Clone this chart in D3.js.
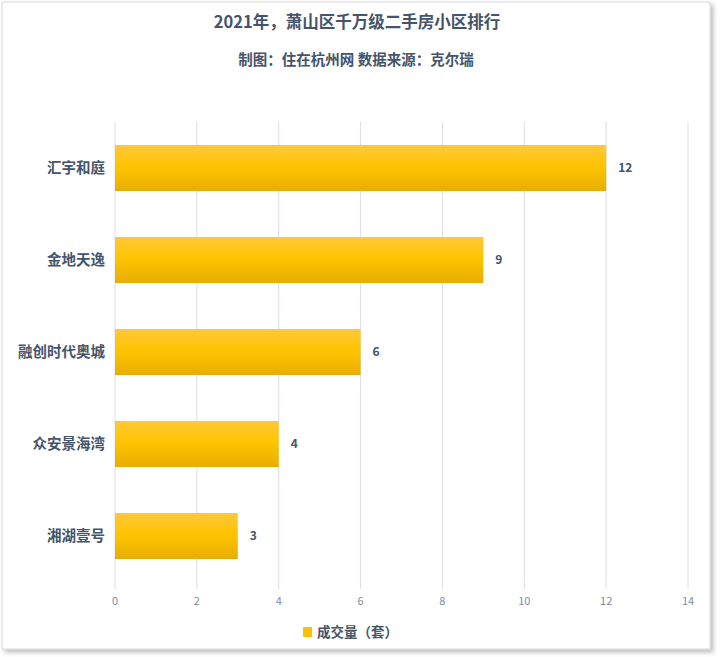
<!DOCTYPE html>
<html><head><meta charset="utf-8">
<script src="https://cdn.jsdelivr.net/npm/d3@7"></script>
<style>
html,body{margin:0;padding:0;background:#fff;}
svg{display:block;font-family:"Microsoft YaHei","Noto Sans CJK SC",sans-serif;}
</style></head>
<body>
<svg id="c" width="720" height="657"></svg>
<script>
const categories = ["汇宇和庭","金地天逸","融创时代奥城","众安景海湾","湘湖壹号"];
const values = [12, 9, 6, 4, 3];
const xTicks = [0,2,4,6,8,10,12,14];
const titleText = "2021年，萧山区千万级二手房小区排行";
const subtitleText = "制图：住在杭州网 数据来源：克尔瑞";
const seriesName = "成交量（套）";

const svg = d3.select("#c");
const defs = svg.append("defs");
const f = defs.append("filter").attr("id","sh").attr("x","-5%").attr("y","-5%").attr("width","110%").attr("height","110%");
f.append("feDropShadow").attr("dx",3).attr("dy",3).attr("stdDeviation",2).attr("flood-color","#000").attr("flood-opacity",0.25);
const g = defs.append("linearGradient").attr("id","bg").attr("x1",0).attr("y1",0).attr("x2",0).attr("y2",1);
g.append("stop").attr("offset","0%").attr("stop-color","#FFC83A");
g.append("stop").attr("offset","45%").attr("stop-color","#FFC400");
g.append("stop").attr("offset","100%").attr("stop-color","#E8AE00");

svg.append("rect").attr("x",2).attr("y",2).attr("width",708).attr("height",647)
  .attr("fill","#fff").attr("stroke","#d9d9d9").attr("filter","url(#sh)");

const m = {left:115, right:688, top:122, bottom:582, gridBottom:589};
const x = d3.scaleLinear().domain([0,14]).range([m.left, m.right]);
const y = d3.scaleBand().domain(categories).range([m.top, m.bottom]).paddingInner(0.5).paddingOuter(0.25);

svg.append("g").selectAll("line").data(xTicks).join("line")
  .attr("x1",d=>x(d)).attr("x2",d=>x(d)).attr("y1",m.top).attr("y2",m.gridBottom)
  .attr("stroke","#D9DEE8").attr("stroke-width",1);

svg.append("g").selectAll("rect").data(values).join("rect")
  .attr("x",x(0)).attr("y",(d,i)=>y(categories[i]))
  .attr("width",d=>x(d)-x(0)).attr("height",y.bandwidth())
  .attr("fill","url(#bg)");

svg.append("g").selectAll("text").data(values).join("text")
  .attr("x",d=>x(d)+12).attr("y",(d,i)=>y(categories[i])+y.bandwidth()/2)
  .attr("dy","0.35em").attr("fill","#44546A").attr("font-size",12).attr("font-weight","bold")
  .text(d=>d);

svg.append("g").selectAll("text").data(categories).join("text")
  .attr("x",m.left-10).attr("y",d=>y(d)+y.bandwidth()/2).attr("dy","0.35em")
  .attr("text-anchor","end").attr("fill","#44546A").attr("font-size",14.5).attr("font-weight","bold")
  .text(d=>d);

svg.append("g").selectAll("text").data(xTicks).join("text")
  .attr("x",d=>x(d)).attr("y",601).attr("dy","0.35em").attr("text-anchor","middle")
  .attr("fill","#7F8A9E").attr("font-size",11).text(d=>d);

svg.append("text").attr("x",357).attr("y",22).attr("dy","0.35em").attr("text-anchor","middle")
  .attr("fill","#44546A").attr("font-size",16.5).attr("font-weight","bold").text(titleText);
svg.append("text").attr("x",356).attr("y",60).attr("dy","0.35em").attr("text-anchor","middle")
  .attr("fill","#44546A").attr("font-size",14.5).attr("font-weight","bold").text(subtitleText);

const lg = svg.append("g");
lg.append("rect").attr("x",303).attr("y",627).attr("width",9).attr("height",10).attr("fill","#FFC000");
lg.append("text").attr("x",317).attr("y",632).attr("dy","0.35em").attr("fill","#44546A")
  .attr("font-size",13.5).attr("font-weight","bold").text(seriesName);
</script>
</body></html>
